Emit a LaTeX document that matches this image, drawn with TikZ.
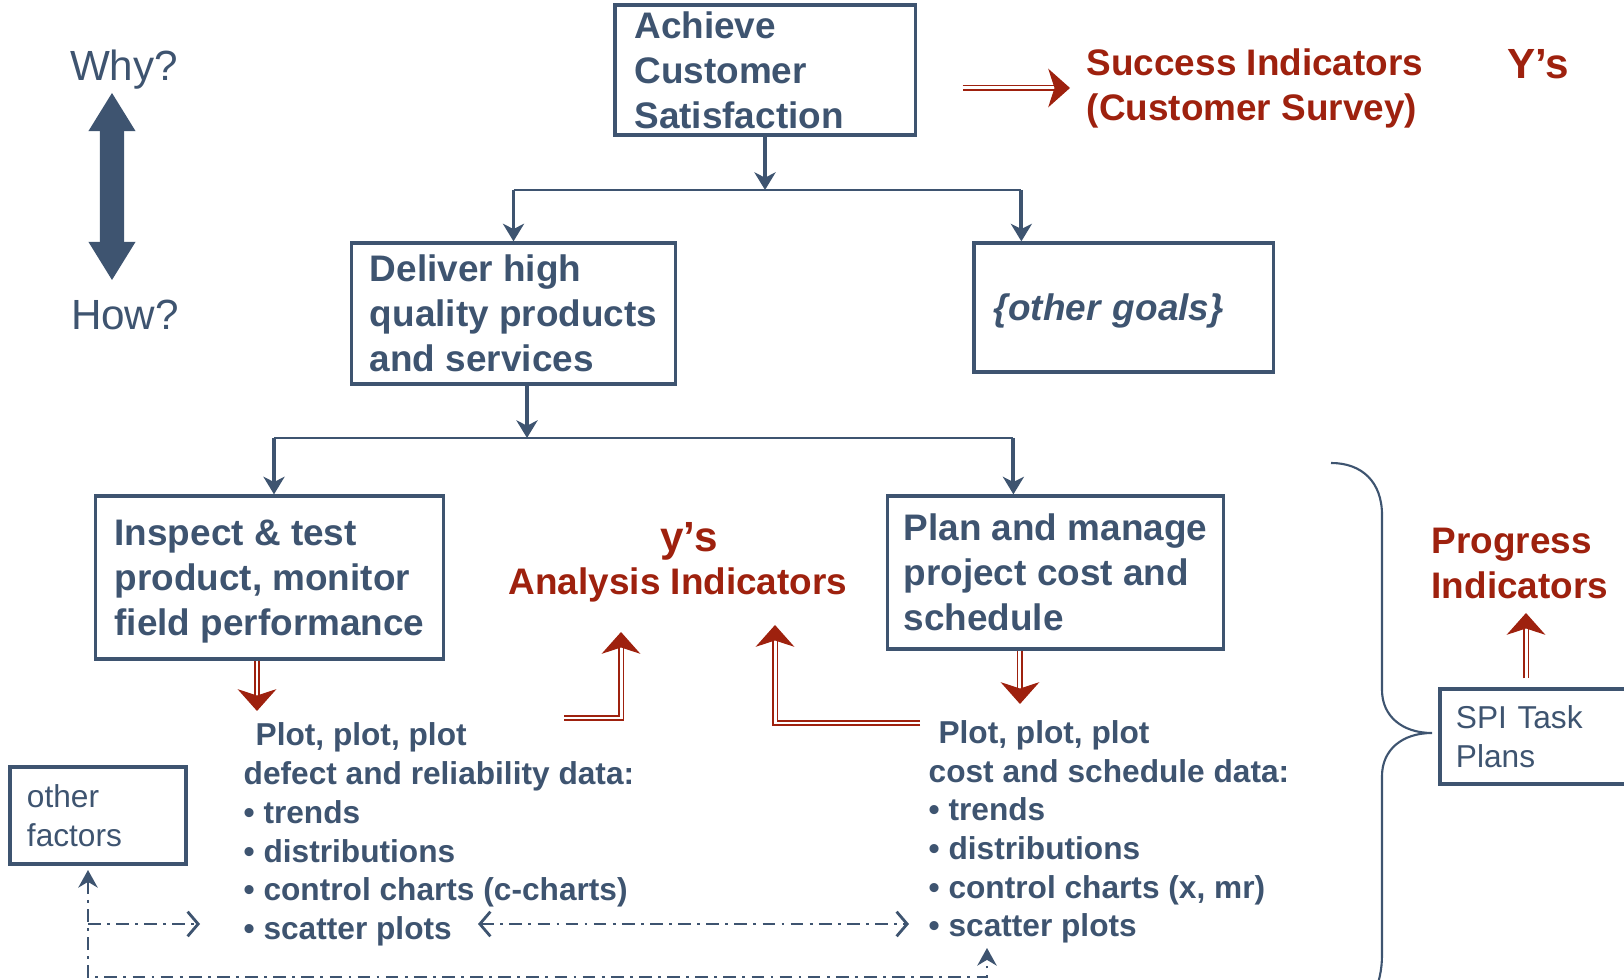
\documentclass[tikz,border=0pt]{standalone}
\usepackage{fontspec}
\setmainfont{Liberation Sans}
\usetikzlibrary{arrows.meta}
\definecolor{slate}{RGB}{62,84,112}
\definecolor{rust}{RGB}{158,33,14}

\begin{document}
\begin{tikzpicture}[x=0.01cm,y=-0.01cm,
	box/.style={draw=slate, line width=0.9pt, fill=white, align=left, inner xsep=0.19cm, inner ysep=0pt, text=slate, font=\fontsize{10.5}{12.8}\selectfont\bfseries},
	smallbox/.style={draw=slate, line width=0.9pt, align=left, inner xsep=0.17cm, inner ysep=0pt, text=slate, font=\fontsize{9}{11}\selectfont},
	plots/.style={align=left, inner sep=0pt, anchor=west, text=slate, font=\fontsize{9}{11}\selectfont\bfseries},
	redlabel/.style={text=rust, inner sep=0pt, font=\fontsize{10.5}{12.8}\selectfont\bfseries},
	tree/.style={draw=slate, line width=1.1pt, -{Stealth[length=5pt,width=6pt,inset=1.5pt]}},
	bar/.style={draw=slate, line width=0.7pt},
	redarr/.style={draw=rust, double=white, line width=0.55pt, double distance=0.85pt, -{Stealth[length=6.2pt,width=11pt,inset=1.8pt]}},
	link/.style={draw=slate, line width=0.8pt, dash pattern=on 3.6pt off 1.8pt on 0.8pt off 1.8pt},
	]
	\useasboundingbox (0,0) rectangle (1624,980);
	
	% why / how
	\node[text=slate, inner sep=0pt, font=\fontsize{12}{14}\selectfont] (why) at (124,70) {Why?};
	\node[text=slate, inner sep=0pt, font=\fontsize{12}{14}\selectfont] (how) at (125,315) {How?};
	\draw[slate, line width=0.24cm, {Triangle[length=0.38cm,width=0.47cm,line width=0pt]}-{Triangle[length=0.38cm,width=0.47cm,line width=0pt]}, shorten <=0.23cm, shorten >=0.35cm] ([xshift=-0.12cm]why.center) -- ([xshift=-0.13cm]how.center);
	
	% goal tree
	\node[box, inner xsep=0.195cm, text width=2.61cm, minimum height=1.30cm] (goal) at (765,70) {Achieve\\Customer\\Satisfaction};
	\node[box, inner xsep=0.175cm, minimum width=3.23cm, minimum height=1.41cm] (deliver) at (513.5,313.5) {Deliver high\\quality products\\and services};
	\node[box, inner xsep=0.2cm, text width=2.59cm, text depth=0pt, minimum height=1.29cm, font=\fontsize{10.5}{12.8}\selectfont\bfseries\itshape] (othergoals) at (1123.5,307.5) {\{other goals\}};
	\node[box, minimum width=3.47cm, minimum height=1.63cm] (inspect) at (269.5,577.5) {Inspect \& test\\product, monitor\\\raisebox{0pt}[\height][0pt]{field performance}};
	\node[box, inner xsep=0.15cm, minimum width=3.35cm, minimum height=1.53cm] (plan) at (1055.5,572.5) {Plan and manage\\project cost and\\schedule};
	
	\coordinate (bar1) at (0,190);
	\coordinate (bar2) at (0,438);
	\coordinate (gtop) at ([xshift=0.49cm]othergoals.north west);
	\coordinate (dbot) at ([xshift=0.135cm]deliver.south);
	\coordinate (itop) at ([xshift=0.045cm]inspect.north);
	\coordinate (ptop) at ([xshift=1.27cm]plan.north west);
	
	\draw[tree] (goal.south) -- (goal.south |- bar1);
	\draw[bar] (deliver.north |- bar1) -- (gtop |- bar1);
	\draw[tree] (deliver.north |- bar1) -- (deliver.north);
	\draw[tree] (gtop |- bar1) -- (gtop);
	
	\draw[tree] (dbot) -- (dbot |- bar2);
	\draw[bar] (itop |- bar2) -- (ptop |- bar2);
	\draw[tree] (itop |- bar2) -- (itop);
	\draw[tree] (ptop |- bar2) -- (ptop);
	
	% indicators
	\node[redlabel, align=left, anchor=west] (success) at (1086,88) {Success Indicators\\(Customer Survey)};
	\node[redlabel, font=\fontsize{12}{14}\selectfont\bfseries] (bigY) at (1538,64) {Y’s};
	\node[redlabel, font=\fontsize{12}{14}\selectfont\bfseries] (smally) at (689,541) {y’s};
	\node[redlabel] (analysis) at (678,585) {Analysis Indicators};
	\node[redlabel, align=left, anchor=west] (progress) at (1431,563) {Progress\\Indicators};
	
	\draw[redarr] (goal.east |- success.west) ++(0.46cm,0) -- ([xshift=-0.16cm]success.west);
	
	% plot lists
	\node[plots] (leftplots) at (243,834.5) {\hspace{3.4pt}Plot, plot, plot\\defect and reliability data:\\• trends\\• distributions\\• control charts (c-charts)\\• scatter plots};
	\node[plots] (rightplots) at (928,832) {\hspace{2.8pt}Plot, plot, plot\\cost and schedule data:\\• trends\\• distributions\\• control charts (x, mr)\\• scatter plots};
	
	\coordinate (iout) at ([xshift=-0.125cm]inspect.south);
	\coordinate (pout) at ([xshift=-0.355cm]plan.south);
	\draw[redarr] (iout) -- (iout |- 0,711);
	\draw[redarr] (pout) -- (pout |- 0,704);
	
	\coordinate (lfeed) at (564,718);
	\coordinate (rfeed) at (920,723);
	\draw[redarr] (lfeed) -| (621,632);
	\draw[redarr] (rfeed) -| (775,625);
	
	% other factors and the dash-dot links
	\node[smallbox, text width=1.42cm, minimum height=0.97cm] (factors) at (98,815.5) {other\\factors};
	\coordinate (fup) at (88,870);
	\coordinate (sup) at (987,948);
	\draw[link, {Stealth[length=5pt,width=5.5pt]}-{Stealth[length=5pt,width=5.5pt]}] (fup) -- (88,977) -- (987,977) -- (sup);
	\draw[link, -{Straight Barb[length=3pt,width=7pt]}] (88,924) -- (200,924);
	\draw[link, {Straight Barb[length=3pt,width=7pt]}-{Straight Barb[length=3pt,width=7pt]}] (478,924) -- (909,924);
	
	% task plans
	\node[smallbox, inner xsep=0.16cm, text width=1.68cm, minimum height=0.95cm] (spi) at (1540,736.5) {SPI Task\\Plans};
	\coordinate (spitop) at ([xshift=-0.14cm]spi.north);
	\draw[redarr] ([yshift=0.09cm]spitop) -- (spitop |- 0,613);
	\draw[slate, line width=0.6pt] (1331,463) .. controls (1362,463) and (1382,482) .. (1382,515) -- (1382,690) .. controls (1382,716) and (1402,733) .. (1432,733) .. controls (1402,733) and (1382,750) .. (1382,776) -- (1382,955) .. controls (1382,970) and (1379,982) .. (1374,995);
\end{tikzpicture}
\end{document}
